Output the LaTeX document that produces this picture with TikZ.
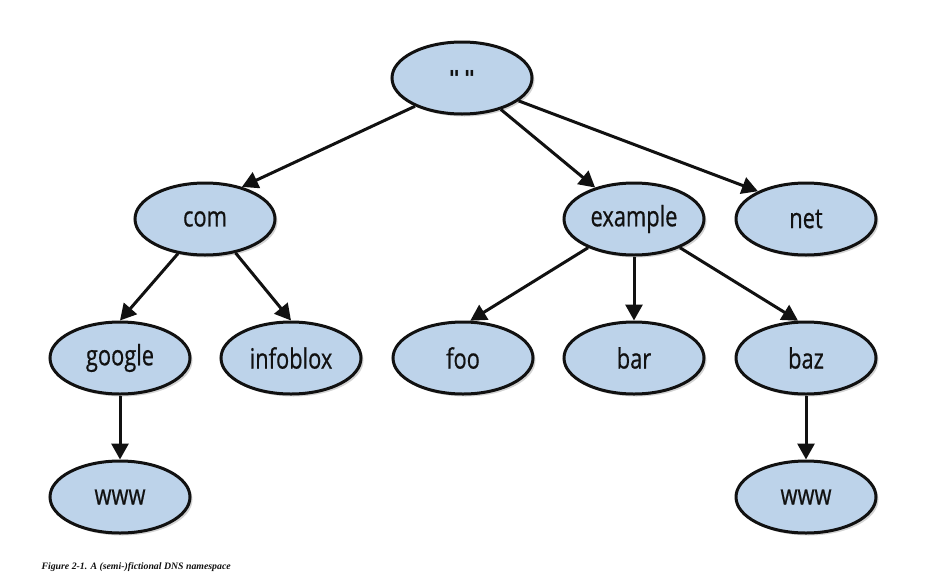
\documentclass[tikz,border=0pt]{standalone}
\usepackage{fontspec}
\setmainfont[FakeStretch=0.78,FakeBold=0.6]{Open Sans}
\newfontfamily\capfont{Liberation Serif}
\newfontfamily\quotefont{DejaVu Sans}
\usetikzlibrary{arrows.meta,shapes.geometric,shadows}
\definecolor{ink}{HTML}{111111}
\definecolor{sky}{HTML}{BDD3EA}
\begin{document}
\begin{tikzpicture}[x=1pt,y=-1pt,every node/.style={font=\fontsize{28}{32}\selectfont,text=ink},
 zone/.style={ellipse,draw=ink,line width=3pt,fill=sky,minimum width=140pt,minimum height=72pt,inner sep=0pt,
  drop shadow={opacity=0.35,shadow xshift=2.5pt,shadow yshift=-2.5pt}},
 arr/.style={-{Triangle[length=16pt,width=17pt]},line width=3pt,ink}]
\useasboundingbox (0,0) rectangle (937,584);
\node[zone](root) at (462,78){\quotefont\bfseries\fontsize{22}{26}\selectfont\char"22\,\char"22};
\node[zone](com) at (205,219){com};
\node[zone](example) at (634,219){example};
\node[zone](net) at (806,219){net};
\node[zone](google) at (120,358){google};
\node[zone](infoblox) at (291,358){infoblox};
\node[zone](foo) at (463,358){foo};
\node[zone](bar) at (634,358){bar};
\node[zone](baz) at (806,358){baz};
\node[zone](wwwg) at (120,497){www};
\node[zone](wwwb) at (806,497){www};
\foreach \x/\y in {root.211/com.41,root.321/example.141,root.338/net.150,com.232/google.north,com.312/infoblox.north,
 example.212/foo.79,example.south/bar.north,example.328/baz.102,google.south/wwwg.north,baz.south/wwwb.north}{\draw[arr](\x)--(\y);}
\node[anchor=base west,font=\capfont\bfseries\itshape\fontsize{9.8}{12}\selectfont](cap) at (38,569){Figure 2-1. A (semi-)fictional DNS namespace};
\end{tikzpicture}
\end{document}
